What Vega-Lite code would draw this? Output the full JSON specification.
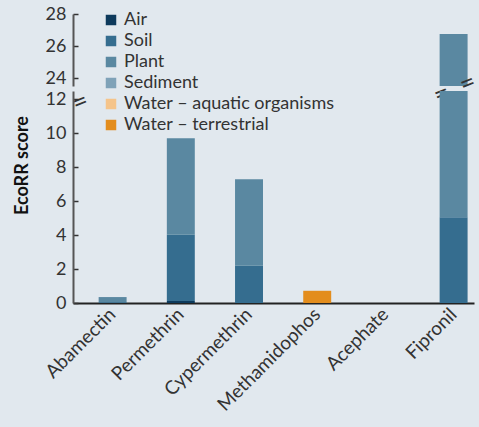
{
  "$schema": "https://vega.github.io/schema/vega-lite/v6.json",
  "background": "#e1e8ee",
  "padding": {"left": 13, "top": 5, "right": 0, "bottom": 20},
  "bounds": "flush",
  "config": {
    "view": {"stroke": null},
    "font": "Lato",
    "axis": {"grid": false, "labelFont": "Lato", "titleFont": "Lato", "labelColor": "#333", "domainColor": "#555", "tickColor": "#333"},
    "concat": {"spacing": 5}
  },
  "datasets": {
    "bars": [
      {"pesticide": "Abamectin", "compartment": "Soil", "value": 0.05},
      {"pesticide": "Abamectin", "compartment": "Plant", "value": 0.3},
      {"pesticide": "Permethrin", "compartment": "Air", "value": 0.12},
      {"pesticide": "Permethrin", "compartment": "Soil", "value": 3.9},
      {"pesticide": "Permethrin", "compartment": "Plant", "value": 5.7},
      {"pesticide": "Cypermethrin", "compartment": "Soil", "value": 2.2},
      {"pesticide": "Cypermethrin", "compartment": "Plant", "value": 5.1},
      {"pesticide": "Methamidophos", "compartment": "Water – terrestrial", "value": 0.72},
      {"pesticide": "Acephate", "compartment": "Sediment", "value": 0},
      {"pesticide": "Fipronil", "compartment": "Soil", "value": 5.05},
      {"pesticide": "Fipronil", "compartment": "Plant", "value": 21.7},
      {"pesticide": "Fipronil", "compartment": "Water – aquatic organisms", "value": 0}
    ],
    "breaks": [
      {"pesticide": "Fipronil", "value": 23.5, "side": "left"},
      {"pesticide": "Fipronil", "value": 23.5, "side": "right"},
      {"pesticide": "Abamectin", "value": 23.5, "side": "axis"}
    ]
  },
  "vconcat": [
    {
      "width": 401,
      "height": 72,
      "encoding": {
        "x": {"field": "pesticide", "type": "nominal", "sort": null, "axis": null,
              "scale": {"domain": ["Abamectin", "Permethrin", "Cypermethrin", "Methamidophos", "Acephate", "Fipronil"], "paddingInner": 0.59, "paddingOuter": 0.235, "align": 0.8}},
        "y": {"field": "value", "type": "quantitative",
              "scale": {"domain": [23.5, 28], "nice": false, "zero": false},
              "axis": {"title": null, "values": [24, 26, 28], "tickSize": -5, "labelPadding": 12, "labelFontSize": 18, "domainWidth": 2, "tickWidth": 1.5}}
      },
      "layer": [
        {
          "data": {"name": "bars"},
          "transform": [
            {"calculate": "indexof(['Air','Soil','Plant','Sediment','Water – aquatic organisms','Water – terrestrial'], datum.compartment)", "as": "rank"}
          ],
          "mark": {"type": "bar", "clip": true},
          "encoding": {
            "y": {"field": "value", "type": "quantitative", "stack": "zero"},
            "color": {"field": "compartment", "type": "nominal",
                      "scale": {"domain": ["Air", "Soil", "Plant", "Sediment", "Water – aquatic organisms", "Water – terrestrial"],
                                "range": ["#0d3a5c", "#356d8f", "#5a88a1", "#7fa2b8", "#f5c48a", "#e38d1d"]},
                      "legend": {"title": null, "orient": "none", "legendX": 29, "legendY": -3, "symbolType": "square", "symbolSize": 110, "symbolStrokeWidth": 0, "symbolOpacity": 1, "labelFontSize": 18, "labelColor": "#333", "rowPadding": 3, "labelLimit": 300}},
            "order": {"field": "rank", "type": "quantitative", "sort": "ascending"}
          }
        },
        {
          "data": {"name": "breaks"},
          "transform": [{"filter": "datum.side == 'left'"}],
          "mark": {"type": "text", "text": "=", "fontSize": 26, "angle": -22, "color": "#333", "dx": -14, "dy": 3, "baseline": "middle", "align": "center"}
        },
        {
          "data": {"name": "breaks"},
          "transform": [{"filter": "datum.side == 'right'"}],
          "mark": {"type": "text", "text": "=", "fontSize": 26, "angle": -22, "color": "#333", "dx": 14, "dy": 3, "baseline": "middle", "align": "center"}
        },
        {
          "data": {"name": "breaks"},
          "transform": [{"filter": "datum.side == 'axis'"}],
          "mark": {"type": "text", "text": "=", "fontSize": 26, "angle": -22, "color": "#333", "dx": -36, "dy": 3, "baseline": "middle", "align": "center"}
        }
      ]
    },
    {
      "width": 401,
      "height": 212,
      "data": {"name": "bars"},
      "transform": [
        {"calculate": "indexof(['Air','Soil','Plant','Sediment','Water – aquatic organisms','Water – terrestrial'], datum.compartment)", "as": "rank"}
      ],
      "mark": {"type": "bar", "clip": true},
      "encoding": {
        "x": {"field": "pesticide", "type": "nominal", "sort": null,
              "scale": {"domain": ["Abamectin", "Permethrin", "Cypermethrin", "Methamidophos", "Acephate", "Fipronil"], "paddingInner": 0.59, "paddingOuter": 0.235, "align": 0.8},
              "axis": {"title": null, "labelAngle": -45, "labelAlign": "right", "labelBaseline": "middle", "labelFontSize": 19, "ticks": false, "labelPadding": 8, "domainColor": "#222", "domainWidth": 2}},
        "y": {"field": "value", "type": "quantitative", "stack": "zero",
              "scale": {"domain": [0, 12.5], "nice": false},
              "axis": {"title": "EcoRR score", "titleFontSize": 18, "titleFontWeight": "bold", "titleColor": "#111", "titleY": 74, "titlePadding": 14,
                       "values": [0, 2, 4, 6, 8, 10, 12], "tickSize": -5, "labelPadding": 12, "labelFontSize": 18, "domainWidth": 2, "tickWidth": 1.5}},
        "color": {"field": "compartment", "type": "nominal",
                  "scale": {"domain": ["Air", "Soil", "Plant", "Sediment", "Water – aquatic organisms", "Water – terrestrial"],
                            "range": ["#0d3a5c", "#356d8f", "#5a88a1", "#7fa2b8", "#f5c48a", "#e38d1d"]},
                  "legend": {"title": null, "orient": "none", "legendX": 29, "legendY": -3, "symbolType": "square", "symbolSize": 110, "symbolStrokeWidth": 0, "symbolOpacity": 1, "labelFontSize": 18, "labelColor": "#333", "rowPadding": 3, "labelLimit": 300}},
        "order": {"field": "rank", "type": "quantitative", "sort": "ascending"}
      }
    }
  ]
}
